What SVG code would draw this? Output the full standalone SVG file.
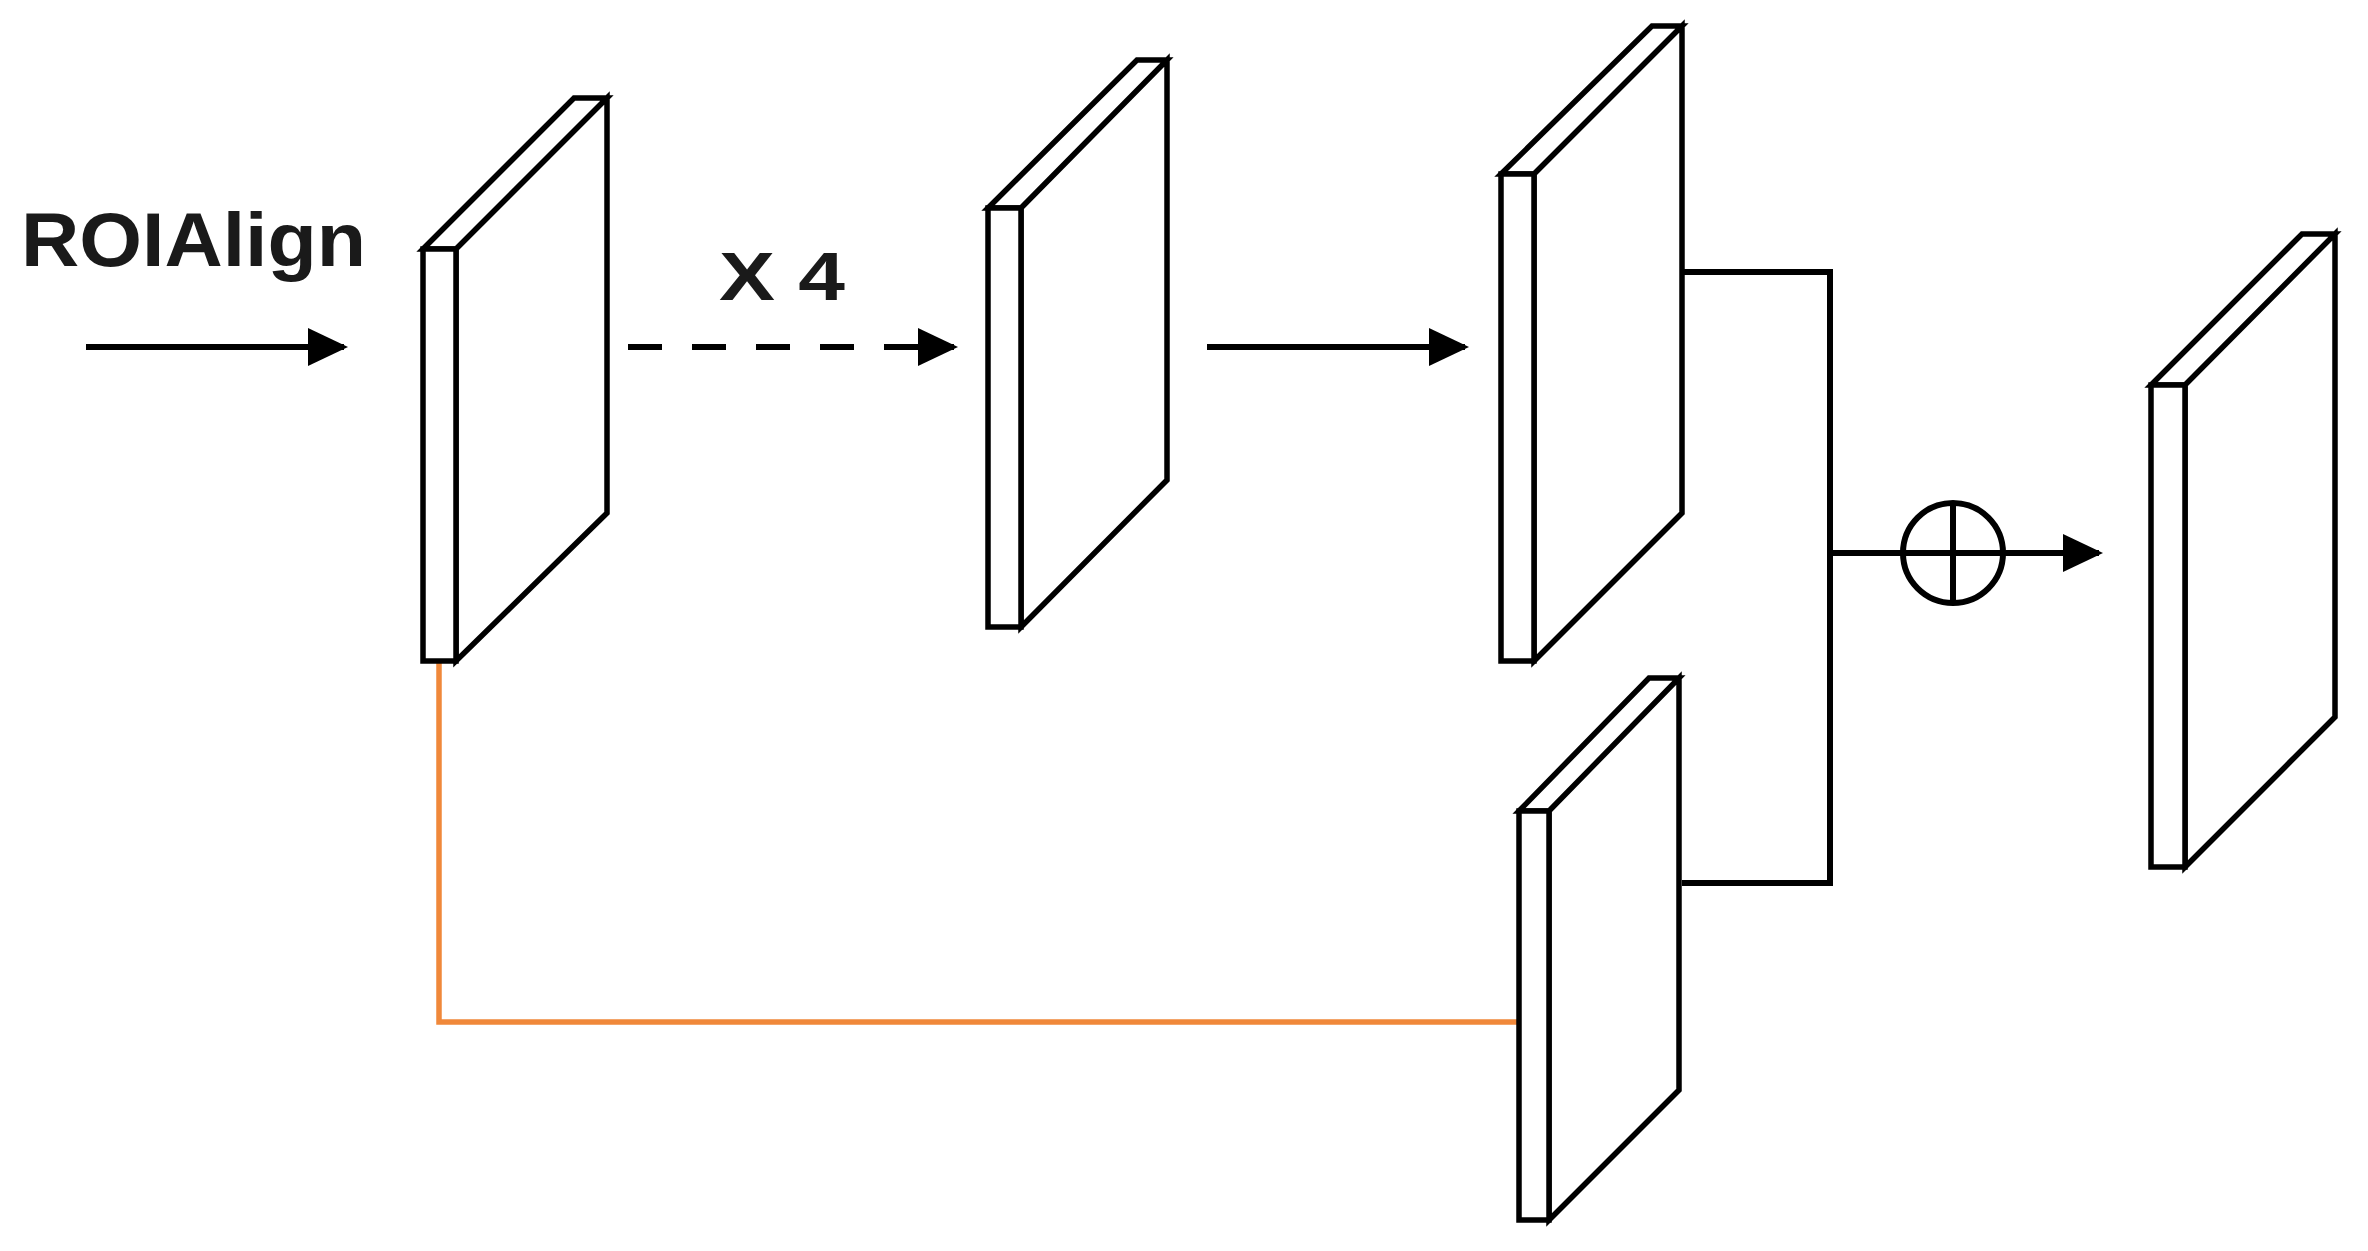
<svg xmlns="http://www.w3.org/2000/svg" width="2368" height="1251" viewBox="0 0 2368 1251">
<style>
.s{fill:#fff;stroke:#000;stroke-width:5.5;stroke-linejoin:miter}
.c{fill:none;stroke:#000;stroke-width:6}
.t{font-family:"Liberation Sans",Arial,sans-serif;font-weight:bold;fill:#1a1a1a}
</style>
<defs>
<marker id="ah" viewBox="0 0 10 10" refX="9" refY="5" markerWidth="40" markerHeight="38" orient="auto" markerUnits="userSpaceOnUse" preserveAspectRatio="none"><path d="M0,0 L10,5 L0,10 z" fill="#000"/></marker>
</defs>
<rect width="2368" height="1251" fill="#fff"/>
<g id="labels">
<text class="t" x="21" y="266" font-size="76" textLength="345" lengthAdjust="spacingAndGlyphs">ROIAlign</text>
<text class="t" x="719" y="300" font-size="68" textLength="126" lengthAdjust="spacingAndGlyphs">X 4</text>
</g>
<g id="connectors">
<line class="c" x1="86" y1="347" x2="344" y2="347" marker-end="url(#ah)"/>
<line class="c" x1="628" y1="347" x2="954" y2="347" stroke-dasharray="34,30" marker-end="url(#ah)"/>
<line class="c" x1="1207" y1="347" x2="1465" y2="347" marker-end="url(#ah)"/>
<polyline class="c" points="1682,272 1830,272 1830,883 1682,883"/>
<line class="c" x1="1830" y1="553" x2="2099" y2="553" marker-end="url(#ah)"/>
<circle class="c" cx="1953" cy="553" r="50"/>
<line class="c" x1="1953" y1="503" x2="1953" y2="603"/>
<polyline points="439,661 439,1022 1519,1022" fill="none" stroke="#F0883A" stroke-width="5.5"/>
</g>
<g id="n1"><path class="s" d="M423,249 L574,98 L607,98 L456,249 Z M456,249 L607,98 L607,513 L456,661 Z"/><rect class="s" x="423" y="249" width="33" height="412"/></g>
<g id="n2"><path class="s" d="M988,208 L1137,60 L1167,60 L1021,208 Z M1021,208 L1167,60 L1167,480 L1021,627 Z"/><rect class="s" x="988" y="208" width="33" height="419"/></g>
<g id="n3"><path class="s" d="M1501,174 L1652,26 L1682,26 L1534,174 Z M1534,174 L1682,26 L1682,513 L1534,661 Z"/><rect class="s" x="1501" y="174" width="33" height="487"/></g>
<g id="n4"><path class="s" d="M1519,811 L1649,678 L1679,678 L1549,811 Z M1549,811 L1679,678 L1679,1090 L1549,1220 Z"/><rect class="s" x="1519" y="811" width="30" height="409"/></g>
<g id="n5"><path class="s" d="M2151,385 L2302,234 L2335,234 L2185,385 Z M2185,385 L2335,234 L2335,717 L2185,867 Z"/><rect class="s" x="2151" y="385" width="34" height="482"/></g>
</svg>
